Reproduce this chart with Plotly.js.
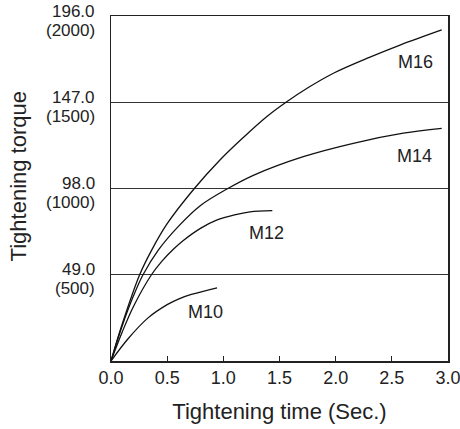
<!DOCTYPE html>
<html>
<head>
<meta charset="utf-8">
<script src="https://cdn.plot.ly/plotly-3.0.1.min.js"></script>
<style>html,body{margin:0;padding:0;background:#fff;}#chart{width:460px;height:429px;}</style>
</head>
<body>
<div id="chart"></div>
<script>
// Tightening torque curves (x: seconds, y: N·m)
const m16_x = [0, 0.1, 0.255, 0.362, 0.5, 0.742, 0.97, 1.178, 1.38, 1.558, 1.76, 1.98, 2.3, 2.573, 2.944];
const m16_y = [0, 21, 49, 63, 78, 98, 114.2, 127, 138.5, 147, 155.5, 163.5, 172.5, 179.5, 188.1];
const m14_x = [0, 0.1, 0.2, 0.285, 0.421, 0.6, 0.8, 1.04, 1.267, 1.712, 2.157, 2.602, 2.944];
const m14_y = [0, 20, 37, 49, 63, 76.5, 88.5, 98, 105.5, 116.1, 123.7, 129.4, 132.2];
const m12_x = [0, 0.1, 0.2, 0.36, 0.45, 0.555, 0.644, 0.8, 0.94, 1.1, 1.237, 1.436];
const m12_y = [0, 16.5, 31, 49, 56.5, 63.5, 68.5, 75.5, 80, 83, 84.7, 85.4];
const m10_x = [0, 0.15, 0.33, 0.5, 0.6, 0.715, 0.944];
const m10_y = [0, 12.5, 24.5, 32, 35.2, 37.8, 41.6];

const seriesNames = ["M16", "M14", "M12", "M10"];
const labelX = [2.715, 2.706, 1.386, 0.837];
const labelY = [170, 116.5, 72.6, 27.7];

// y tick labels: N·m (kgf·cm)
const yTickVals = [49, 98, 147, 196];
const yTickMain = ["49.0", "98.0", "147.0", "196.0"];
const yTickSub = ["(500)", "(1000)", "(1500)", "(2000)"];
const xTickVals = [0, 0.5, 1.0, 1.5, 2.0, 2.5, 3.0];
const xTickText = ["0.0", "0.5", "1.0", "1.5", "2.0", "2.5", "3.0"];

const FONT = "Liberation Sans, Arial, Helvetica, sans-serif";
const xs = [m16_x, m14_x, m12_x, m10_x];
const ys = [m16_y, m14_y, m12_y, m10_y];

const traces = xs.map((x, i) => ({
  x: x, y: ys[i], type: "scatter", mode: "lines", name: seriesNames[i],
  line: {color: "#111", width: 1.3, shape: "spline", smoothing: 1},
  hoverinfo: "skip", showlegend: false
}));

const annotations = seriesNames.map((n, i) => ({
  x: labelX[i], y: labelY[i], xref: "x", yref: "y", text: n, showarrow: false,
  font: {family: FONT, size: 18, color: "#222"}
}));
yTickVals.forEach((v, i) => {
  annotations.push({
    x: -0.045, xref: "paper", y: v, yref: "y", text: yTickMain[i], showarrow: false,
    xanchor: "right", yanchor: "middle", yshift: 5, borderpad: 0,
    font: {family: FONT, size: 17, color: "#222"}
  });
  annotations.push({
    x: -0.045, xref: "paper", y: v, yref: "y", text: yTickSub[i], showarrow: false,
    xanchor: "right", yanchor: "middle", yshift: -14, borderpad: 0,
    font: {family: FONT, size: 17, color: "#222"}
  });
});
annotations.push({
  x: -0.276, y: 0.535, xref: "paper", yref: "paper", text: "Tightening torque",
  xanchor: "center", yanchor: "middle",
  textangle: -90, showarrow: false, font: {family: FONT, size: 22, color: "#222"}
});

const layout = {
  width: 460, height: 429,
  margin: {l: 111, r: 12, t: 16, b: 68},
  paper_bgcolor: "#fff", plot_bgcolor: "#fff",
  font: {family: FONT, color: "#222"},
  showlegend: false,
  xaxis: {
    range: [0, 3], tickvals: xTickVals, ticktext: xTickText,
    ticks: "inside", ticklen: 5, tickwidth: 1.2, tickcolor: "#222",
    showline: true, linecolor: "#222", linewidth: 1.5, mirror: true,
    showgrid: false, zeroline: false, ticklabeloverflow: "allow",
    tickfont: {family: FONT, size: 18, color: "#222"},
    title: {text: "Tightening time (Sec.)", font: {family: FONT, size: 22, color: "#222"}, standoff: 16}
  },
  yaxis: {
    range: [0, 196], tickvals: yTickVals, showticklabels: false,
    ticks: "", showline: true, linecolor: "#222", linewidth: 1.5, mirror: true,
    showgrid: true, gridcolor: "#333", gridwidth: 1.3, zeroline: false
  },
  annotations: annotations
};

Plotly.newPlot("chart", traces, layout, {staticPlot: true, displayModeBar: false});
</script>
</body>
</html>
